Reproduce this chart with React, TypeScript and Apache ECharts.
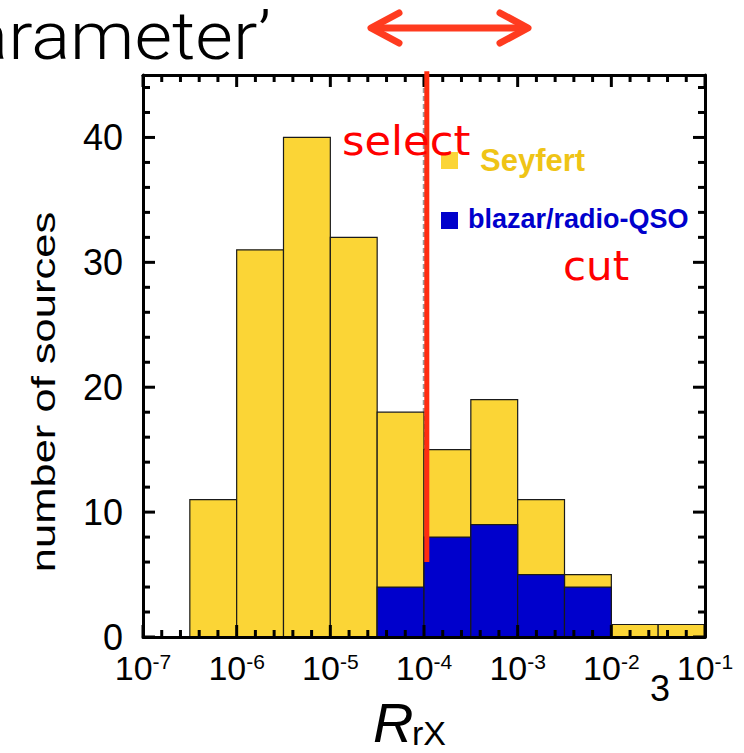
import React, { useEffect, useRef } from "react";
import * as echarts from "echarts";

// log10(R_rX) bin edges (0.5 dex bins)
const binEdges = [-6.5, -6, -5.5, -5, -4.5, -4, -3.5, -3, -2.5, -2, -1.5, -1];
// total number of sources per bin (Seyfert + blazar stacked)
const totalCounts = [11, 31, 40, 32, 18, 15, 19, 11, 5, 1, 1];
// blazar / radio-QSO counts per bin
const blazarCounts = [0, 0, 0, 0, 4, 8, 9, 5, 4, 0, 0];
// x axis range in log10 units, y axis range
const xRange = [-7, -1];
const yRange = [0, 45];
// tick positions: x majors at each decade, minors every 0.2 dex; y majors every 10, minors every 2
const xMajorTicks = [-7, -6, -5, -4, -3, -2, -1];
const xMinorSteps = [0.2, 0.4, 0.6, 0.8];
const yMajorTicks = [0, 10, 20, 30, 40];
const yMinorSteps = [2, 4, 6, 8];
// selection cut (log10 R_rX) and the dashed reference line
const cutLog = -3.97;
const cutLineY = [6, 45.3];
const refLog = -4;

const FONT = "'Liberation Sans', Arial, Helvetica, sans-serif";
const YELLOW = "#fbd536";
const BLUE = "#0000cc";

export default function App() {
  const ref = useRef<HTMLDivElement>(null);
  useEffect(() => {
    document.body.style.margin = "0";
    if (!ref.current) return;
    const chart = echarts.init(ref.current, null, { renderer: "svg" });

    const totalData = totalCounts.map((v, i) => [binEdges[i], binEdges[i + 1], v]);
    const blazarData = blazarCounts.map((v, i) => [binEdges[i], binEdges[i + 1], v]);

    // tick items: [x, y, axis kind (0 = x ticks, 1 = y ticks), tick length], all inside the axis extents
    const tickData: number[][] = [];
    xMajorTicks.forEach((t, i) => {
      tickData.push([t, yRange[0], 0, 12]);
      if (i < xMajorTicks.length - 1) xMinorSteps.forEach((s) => tickData.push([t + s, yRange[0], 0, 7]));
    });
    yMajorTicks.forEach((t) => {
      tickData.push([xRange[0], t, 1, 12]);
      yMinorSteps.forEach((s) => {
        if (t + s < yRange[1]) tickData.push([xRange[0], t + s, 1, 7]);
      });
    });

    const renderBar = (color: string) => (params: any, api: any) => {
      const v = api.value(2);
      if (!v) return null;
      const p0 = api.coord([api.value(0), v]);
      const p1 = api.coord([api.value(1), 0]);
      return {
        type: "rect",
        shape: { x: p0[0], y: p0[1], width: p1[0] - p0[0], height: p1[1] - p0[1] },
        style: { fill: color, stroke: "#1a1a1a", lineWidth: 1.2 },
      };
    };

    const W = 3;
    const renderTick = (params: any, api: any) => {
      const kind = api.value(2);
      const len = api.value(3);
      if (kind === 0) {
        const v = api.value(0);
        const pb = api.coord([v, yRange[0]]);
        const pt = api.coord([v, yRange[1]]);
        return {
          type: "group",
          children: [
            { type: "rect", shape: { x: pb[0] - W / 2, y: pb[1] - len, width: W, height: len }, style: { fill: "#000" } },
            { type: "rect", shape: { x: pt[0] - W / 2, y: pt[1], width: W, height: len }, style: { fill: "#000" } },
          ],
        };
      }
      const v = api.value(1);
      const pl = api.coord([xRange[0], v]);
      const pr = api.coord([xRange[1], v]);
      return {
        type: "group",
        children: [
          { type: "rect", shape: { x: pl[0], y: pl[1] - W / 2, width: len, height: W }, style: { fill: "#000" } },
          { type: "rect", shape: { x: pr[0] - len, y: pr[1] - W / 2, width: len, height: W }, style: { fill: "#000" } },
        ],
      };
    };

    const axisLine = () => ({ show: true, onZero: false, lineStyle: { color: "#000", width: 3 } });

    chart.setOption({
      animation: false,
      grid: { left: 143, top: 75, right: 39, bottom: 116 },
      xAxis: [
        {
          type: "value",
          min: xRange[0],
          max: xRange[1],
          interval: 1,
          position: "bottom",
          z: 10,
          axisLine: axisLine(),
          axisTick: { show: false },
          splitLine: { show: false },
          axisLabel: {
            margin: 14,
            formatter: (v: number) => `{b|10}{s|${v}}`,
            rich: {
              b: { fontFamily: FONT, fontSize: 34, lineHeight: 34, color: "#000" },
              s: { fontFamily: FONT, fontSize: 21, lineHeight: 21, color: "#000", verticalAlign: "top" },
            },
          },
        },
        {
          type: "value",
          min: xRange[0],
          max: xRange[1],
          interval: 1,
          position: "top",
          z: 10,
          axisLine: axisLine(),
          axisTick: { show: false },
          splitLine: { show: false },
          axisLabel: { show: false },
        },
      ],
      yAxis: [
        {
          type: "value",
          min: yRange[0],
          max: yRange[1],
          interval: 10,
          position: "left",
          z: 10,
          axisLine: axisLine(),
          axisTick: { show: false },
          splitLine: { show: false },
          axisLabel: {
            margin: 20,
            fontFamily: FONT,
            fontSize: 36,
            color: "#000",
            formatter: (v: number) => (v % 10 === 0 ? String(v) : ""),
          },
        },
        {
          type: "value",
          min: yRange[0],
          max: yRange[1],
          interval: 10,
          position: "right",
          z: 10,
          axisLine: axisLine(),
          axisTick: { show: false },
          splitLine: { show: false },
          axisLabel: { show: false },
        },
      ],
      series: [
        {
          name: "reference",
          type: "line",
          z: 1,
          symbol: "none",
          data: [
            [refLog, yRange[0]],
            [refLog, yRange[1]],
          ],
          lineStyle: { color: "#9a9a9a", width: 2.5, type: [5, 3] },
        },
        {
          name: "Seyfert",
          type: "custom",
          z: 2,
          renderItem: renderBar(YELLOW),
          encode: { x: [0, 1], y: 2 },
          data: totalData,
        },
        {
          name: "blazar/radio-QSO",
          type: "custom",
          z: 3,
          renderItem: renderBar(BLUE),
          encode: { x: 0, y: 1 },
          data: blazarData.map((d) => d),
          dimensions: ["lo", "hi", "count"],
        },
        {
          name: "ticks",
          type: "custom",
          z: 15,
          silent: true,
          renderItem: renderTick,
          encode: { x: 0, y: 1 },
          data: tickData,
        },
        {
          name: "cut",
          type: "line",
          z: 20,
          clip: false,
          symbol: "none",
          data: [
            [cutLog, cutLineY[0]],
            [cutLog, cutLineY[1]],
          ],
          lineStyle: { color: "#ff2c10", width: 5 },
        },
      ],
      graphic: [
        {
          type: "text",
          x: -71,
          y: 37,
          scaleX: 1.1,
          style: {
            text: "parameter\u2019",
            font: "300 66px Roboto, 'Liberation Sans', sans-serif",
            fill: "#000",
            textAlign: "left",
            verticalAlign: "middle",
          },
        },
        {
          type: "rect",
          shape: { x: 372, y: 24.5, width: 155, height: 7, r: 3.5 },
          style: { fill: "#ff3b1f" },
        },
        {
          type: "polyline",
          shape: { points: [[399, 13], [371, 28], [399, 43]] },
          style: { stroke: "#ff3b1f", lineWidth: 7, lineCap: "round", lineJoin: "round", fill: null },
        },
        {
          type: "polyline",
          shape: { points: [[500, 13], [528, 28], [500, 43]] },
          style: { stroke: "#ff3b1f", lineWidth: 7, lineCap: "round", lineJoin: "round", fill: null },
        },
        {
          type: "text",
          x: 43,
          y: 392,
          rotation: Math.PI / 2,
          scaleX: 1.28,
          style: {
            text: "number of sources",
            font: `34px ${FONT}`,
            fill: "#000",
            textAlign: "center",
            verticalAlign: "middle",
          },
        },
        {
          type: "text",
          x: 373,
          y: 722,
          style: {
            text: "R",
            font: `italic 56px ${FONT}`,
            fill: "#000",
            textAlign: "left",
            verticalAlign: "middle",
          },
        },
        {
          type: "text",
          x: 412,
          y: 733,
          style: {
            text: "rX",
            font: `34px ${FONT}`,
            fill: "#000",
            textAlign: "left",
            verticalAlign: "middle",
          },
        },
        {
          type: "text",
          x: 660,
          y: 688,
          style: {
            text: "3",
            font: `36px ${FONT}`,
            fill: "#000",
            textAlign: "center",
            verticalAlign: "middle",
          },
        },
        {
          type: "text",
          x: 342,
          y: 141,
          z: 30,
          scaleX: 1.08,
          style: {
            text: "select",
            font: "40px 'DejaVu Sans', sans-serif",
            fill: "#ff0000",
            textAlign: "left",
            verticalAlign: "middle",
          },
        },
        {
          type: "text",
          x: 563,
          y: 266,
          z: 30,
          scaleX: 1.05,
          style: {
            text: "cut",
            font: "40px 'DejaVu Sans', sans-serif",
            fill: "#ff0000",
            textAlign: "left",
            verticalAlign: "middle",
          },
        },
        {
          type: "rect",
          shape: { x: 441, y: 152, width: 17, height: 17 },
          style: { fill: YELLOW },
        },
        {
          type: "text",
          x: 480,
          y: 160,
          style: {
            text: "Seyfert",
            font: `bold 31px ${FONT}`,
            fill: "#efc416",
            textAlign: "left",
            verticalAlign: "middle",
          },
        },
        {
          type: "rect",
          shape: { x: 441, y: 212, width: 17, height: 17 },
          style: { fill: BLUE },
        },
        {
          type: "text",
          x: 468,
          y: 219,
          style: {
            text: "blazar/radio-QSO",
            font: `bold 27px ${FONT}`,
            fill: BLUE,
            textAlign: "left",
            verticalAlign: "middle",
          },
        },
      ],
    });
    return () => chart.dispose();
  }, []);
  return <div ref={ref} style={{ width: 744, height: 753 }} />;
}
